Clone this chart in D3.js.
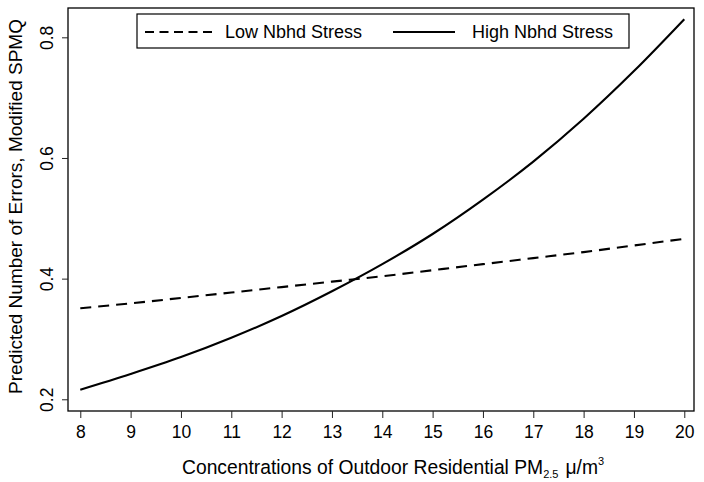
<!DOCTYPE html>
<html>
<head>
<meta charset="utf-8">
<script src="https://cdn.jsdelivr.net/npm/d3@7"></script>
<style>
  html, body { margin: 0; padding: 0; background: #fff; }
  svg { display: block; font-family: "Liberation Sans", Arial, Helvetica, sans-serif; }
</style>
</head>
<body>
<svg id="chart" width="704" height="482"></svg>
<script>
// ---- data ----
const pm25 = [8, 9, 10, 11, 12, 13, 14, 15, 16, 17, 18, 19, 20];
const lowStress  = [0.351, 0.359, 0.368, 0.377, 0.386, 0.395, 0.404, 0.414, 0.424, 0.434, 0.444, 0.455, 0.466];
const highStress = [0.216, 0.242, 0.270, 0.302, 0.338, 0.379, 0.424, 0.474, 0.531, 0.594, 0.665, 0.744, 0.830];
const xTicks = [8, 9, 10, 11, 12, 13, 14, 15, 16, 17, 18, 19, 20];
const yTicks = [0.2, 0.4, 0.6, 0.8];
const seriesNames = ["Low Nbhd Stress", "High Nbhd Stress"];

// ---- layout ----
const svg = d3.select("#chart");
const pLeft = 68, pRight = 694, pTop = 8, pBottom = 411;

const x = d3.scaleLinear().domain([7.756, 20.193]).range([pLeft, pRight]);
const y = d3.scaleLinear().domain([0.1806, 0.8486]).range([pBottom, pTop]);

// frame
svg.append("rect")
  .attr("x", pLeft).attr("y", pTop)
  .attr("width", pRight - pLeft).attr("height", pBottom - pTop)
  .attr("fill", "none").attr("stroke", "#000").attr("stroke-width", 1.3);

// x axis
const xAxis = d3.axisBottom(x).tickValues(xTicks).tickSize(7).tickPadding(8)
  .tickFormat(d3.format("d"));
const gx = svg.append("g").attr("transform", `translate(0,${pBottom})`).call(xAxis);
gx.select(".domain").remove();
gx.selectAll(".tick line").attr("stroke", "#222").attr("stroke-width", 1);
gx.selectAll(".tick text").attr("font-size", 17.5).attr("fill", "#000")
  .attr("font-family", "'Liberation Sans', Arial, sans-serif");

// y axis
const yAxis = d3.axisLeft(y).tickValues(yTicks).tickSize(6).tickPadding(0)
  .tickFormat(d3.format(".1f"));
const gy = svg.append("g").attr("transform", `translate(${pLeft},0)`).call(yAxis);
gy.select(".domain").remove();
gy.selectAll(".tick line").attr("stroke", "#222").attr("stroke-width", 1);
gy.selectAll(".tick text")
  .attr("font-size", 17.5).attr("fill", "#000")
  .attr("font-family", "'Liberation Sans', Arial, sans-serif")
  .attr("x", null).attr("dy", null)
  .attr("text-anchor", "middle")
  .attr("transform", "translate(-15,0) rotate(-90)");

// lines
const line = d3.line().x((d, i) => x(pm25[i])).y(d => y(d)).curve(d3.curveMonotoneX);
svg.append("path").datum(lowStress)
  .attr("d", line).attr("fill", "none").attr("stroke", "#000")
  .attr("stroke-width", 2.1).attr("stroke-dasharray", "11,7");
svg.append("path").datum(highStress)
  .attr("d", line).attr("fill", "none").attr("stroke", "#000")
  .attr("stroke-width", 2.1);

// axis titles
svg.append("text")
  .attr("transform", `translate(22,${(pTop + pBottom) / 2 - 3}) rotate(-90)`)
  .attr("text-anchor", "middle").attr("font-size", 19).attr("fill", "#000")
  .text("Predicted Number of Errors, Modified SPMQ");

const xt = svg.append("text")
  .attr("x", 182).attr("y", 474).attr("font-size", 19.3).attr("fill", "#000");
xt.append("tspan").text("Concentrations of Outdoor Residential PM");
xt.append("tspan").attr("font-size", 11).attr("dy", 4).text("2.5");
xt.append("tspan").attr("dx", 7).attr("dy", -4).text("\u03bc/m");
xt.append("tspan").attr("font-size", 11).attr("dy", -9).text("3");

// legend
const lg = svg.append("g");
lg.append("rect").attr("x", 137).attr("y", 14).attr("width", 492).attr("height", 34)
  .attr("fill", "#fff").attr("stroke", "#000").attr("stroke-width", 1.2);
lg.append("line").attr("x1", 145).attr("x2", 212).attr("y1", 32).attr("y2", 32)
  .attr("stroke", "#000").attr("stroke-width", 2).attr("stroke-dasharray", "9,5.5");
lg.append("text").attr("x", 225).attr("y", 38).attr("font-size", 18).attr("fill", "#000")
  .text(seriesNames[0]);
lg.append("line").attr("x1", 393).attr("x2", 455).attr("y1", 32).attr("y2", 32)
  .attr("stroke", "#000").attr("stroke-width", 2);
lg.append("text").attr("x", 472).attr("y", 38).attr("font-size", 18).attr("fill", "#000")
  .text(seriesNames[1]);
</script>
</body>
</html>
